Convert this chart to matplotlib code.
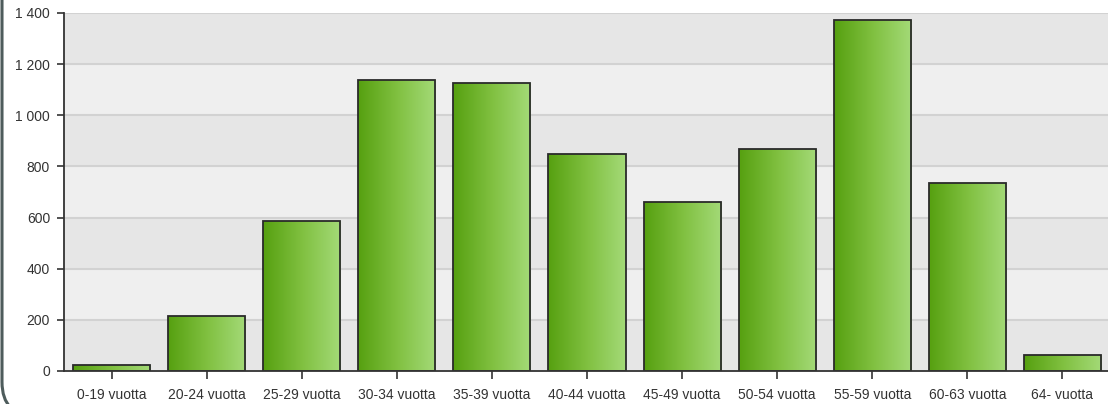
import matplotlib
matplotlib.use("Agg")
import matplotlib.pyplot as plt
import numpy as np
from matplotlib.colors import LinearSegmentedColormap
from matplotlib.patches import FancyBboxPatch
from matplotlib.transforms import IdentityTransform
from matplotlib.ticker import FuncFormatter

plt.rcParams['font.family'] = ['Liberation Sans', 'DejaVu Sans']

# age groups and counts
groups = ["0-19 vuotta", "20-24 vuotta", "25-29 vuotta", "30-34 vuotta",
          "35-39 vuotta", "40-44 vuotta", "45-49 vuotta", "50-54 vuotta",
          "55-59 vuotta", "60-63 vuotta", "64- vuotta"]
counts = [22, 216, 588, 1139, 1127, 847, 660, 870, 1373, 735, 64]
yticks = [0, 200, 400, 600, 800, 1000, 1200, 1400]

W, H = 1108, 404
fig = plt.figure(figsize=(W / 100, H / 100), dpi=100)
ax = fig.add_axes([64 / W, 33 / H, (W - 64) / W, 358 / H])

# alternating background bands
for i in range(len(yticks) - 1):
    col = "#e6e6e6" if i % 2 == 0 else "#efefef"
    ax.axhspan(yticks[i], yticks[i + 1], color=col, zorder=0, lw=0)
for t in yticks[1:]:
    ax.axhline(t, color="#d2d2d2", lw=1.5, zorder=1)

grad = LinearSegmentedColormap.from_list("g", ["#56a010", "#80c040", "#a4da78"])
img = np.linspace(0, 1, 256).reshape(1, -1)

x = np.arange(len(groups))
bars = ax.bar(x, counts, width=0.81, facecolor="none", edgecolor="#2a2a2a",
              linewidth=1.3, zorder=3)
for b in bars:
    x0, w, h = b.get_x(), b.get_width(), b.get_height()
    im = ax.imshow(img, cmap=grad, aspect="auto", extent=[x0, x0 + w, 0, h],
                   zorder=2, interpolation="bilinear")
    im.set_clip_path(b)

ax.set_xlim(-0.5, 10.5 - 2 / 95)
ax.set_ylim(0, 1400)
ax.set_xticks(x)
ax.set_xticklabels(groups)
ax.set_yticks(yticks)
ax.yaxis.set_major_formatter(FuncFormatter(lambda v, p: f"{int(v):,}".replace(",", " ")))

for s in ["top", "right"]:
    ax.spines[s].set_visible(False)
for s in ["left", "bottom"]:
    ax.spines[s].set_color("#333333")
    ax.spines[s].set_linewidth(1.3)
    ax.spines[s].set_zorder(4)
ax.tick_params(axis="y", length=5, width=1.2, color="#333333", pad=5,
               labelsize=10, labelcolor="#333333")
ax.tick_params(axis="x", length=6, width=1.2, color="#333333", pad=6,
               labelsize=10, labelcolor="#333333")

# rounded frame peeking in at the left (pixel coords, only bottom-left corner visible)
frame = FancyBboxPatch((2, -12), W + 100, H + 100,
                       boxstyle="round,pad=0,rounding_size=34",
                       transform=IdentityTransform(), fill=False,
                       edgecolor="#4e5c5c", linewidth=2.2, zorder=0)
fig.patches.append(frame)

fig.savefig("out.png", dpi=100)
